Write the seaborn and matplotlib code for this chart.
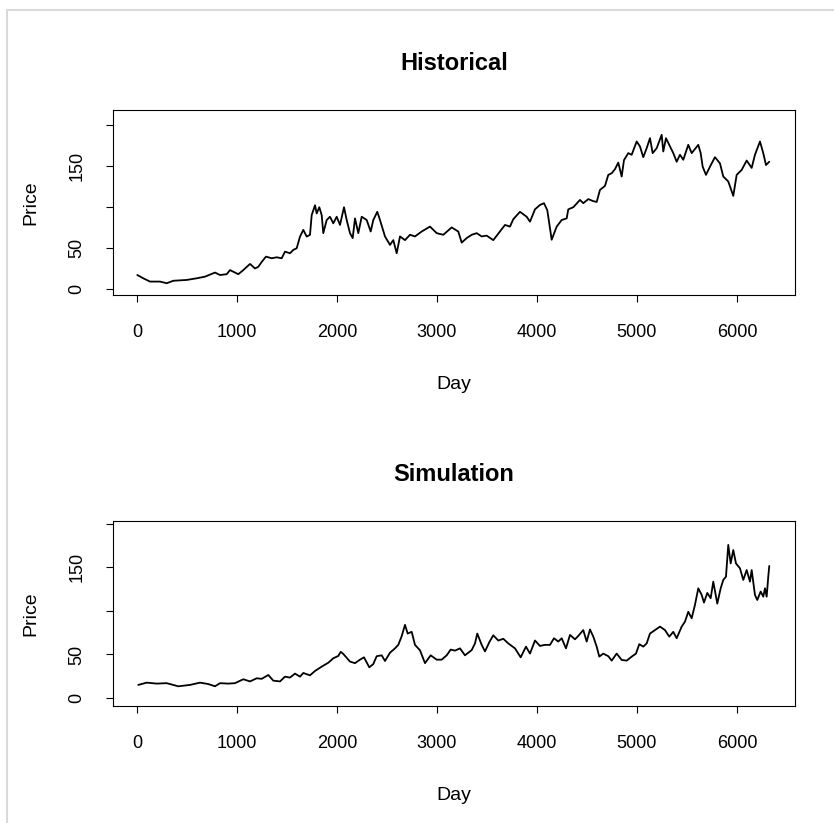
import numpy as np
import pandas as pd
import matplotlib
matplotlib.use("Agg")
import matplotlib.pyplot as plt
import seaborn as sns
from matplotlib.lines import Line2D

# --- values ---
hist_day = [3, 63, 130, 230, 297, 363, 497, 597, 680, 780, 830, 897, 930, 1013, 1063,
            1130, 1180, 1213, 1247, 1290, 1347, 1397, 1447, 1480, 1530, 1563, 1597,
            1630, 1663, 1697, 1730, 1747, 1780, 1797, 1823, 1847, 1863, 1897, 1930,
            1963, 1997, 2030, 2070, 2097, 2130, 2157, 2180, 2213, 2247, 2297, 2337,
            2363, 2403, 2430, 2480, 2530, 2563, 2597, 2630, 2680, 2730, 2780, 2847,
            2930, 2997, 3063, 3147, 3213, 3247, 3297, 3347, 3397, 3447, 3497, 3563,
            3630, 3680, 3730, 3763, 3830, 3897, 3930, 3980, 4030, 4070, 4103, 4130,
            4147, 4197, 4247, 4297, 4313, 4363, 4430, 4463, 4513, 4563, 4597, 4630,
            4680, 4713, 4747, 4780, 4813, 4847, 4870, 4913, 4947, 4997, 5030, 5063,
            5097, 5130, 5157, 5197, 5247, 5263, 5290, 5330, 5363, 5397, 5430, 5463,
            5513, 5547, 5613, 5637, 5657, 5690, 5730, 5780, 5830, 5863, 5913, 5963,
            5997, 6047, 6097, 6147, 6180, 6230, 6263, 6290, 6323]
hist_price = [17, 13, 9, 9, 7, 10, 11, 13, 15, 20, 17, 18, 23, 18, 23,
              30.5, 25, 27, 33, 39.4, 37.4, 38.6, 37.4, 45.5, 43.5, 47.6, 49.6,
              63.8, 72, 63.8, 66, 90, 102, 92, 99.6, 90, 68, 84, 88,
              80, 88, 78, 99.6, 84, 68, 62, 86, 68, 88, 84, 70,
              84, 94, 84, 64, 53.7, 59.5, 43.5, 64, 59.5, 66, 64, 70,
              76, 68, 66, 75, 70, 56.5, 62, 66, 68, 64, 65, 59.5,
              70, 78, 76, 85, 94, 88, 82, 97, 102.4, 104.5, 96, 74,
              60, 76, 84, 86, 97, 99.6, 108.5, 104.5, 109.5, 107, 106, 120.7,
              125.6, 139, 141, 146, 154, 137, 157, 165.5, 163.5, 179.7, 173.6, 160.6,
              171.5, 183.7, 165.5, 171.5, 187.8, 167.5, 183.7, 173.6, 165.5, 155, 163.5, 157.4,
              175.6, 165.5, 175.6, 165.5, 149, 139, 149, 160.6, 153, 137, 131, 113.4,
              139, 145, 156.5, 147.5, 163.5, 179.7, 165.5, 151, 155]

sim_day = [13, 97, 197, 297, 413, 530, 630, 713, 780, 830, 913, 980, 1063, 1130, 1197,
           1247, 1313, 1363, 1430, 1480, 1530, 1580, 1630, 1663, 1730, 1780, 1847,
           1913, 1963, 2013, 2037, 2063, 2130, 2180, 2230, 2270, 2323, 2363, 2397,
           2447, 2480, 2530, 2580, 2613, 2647, 2680, 2707, 2747, 2780, 2830, 2880,
           2937, 2997, 3047, 3097, 3137, 3180, 3230, 3280, 3347, 3380, 3403, 3447,
           3480, 3523, 3563, 3613, 3663, 3713, 3780, 3837, 3890, 3930, 3980, 4030,
           4080, 4130, 4170, 4213, 4247, 4290, 4330, 4380, 4413, 4463, 4497, 4530,
           4563, 4597, 4623, 4663, 4713, 4747, 4797, 4847, 4897, 4947, 4990, 5023,
           5063, 5097, 5130, 5180, 5230, 5280, 5323, 5363, 5397, 5447, 5480, 5513,
           5547, 5580, 5613, 5647, 5670, 5703, 5737, 5763, 5803, 5837, 5863, 5890,
           5913, 5937, 5963, 5990, 6030, 6063, 6097, 6130, 6147, 6180, 6203, 6237,
           6263, 6280, 6297, 6313, 6323]
sim_price = [15, 17.6, 16.5, 17, 13.4, 15, 17.6, 16, 13.4, 17, 16.5, 17, 21.5, 19, 22.6,
             22, 26.4, 19.9, 19, 24.5, 23.4, 28, 24.5, 28.7, 26, 31, 36,
             40.5, 45.6, 48.3, 53, 50.6, 41.8, 40, 44, 46.7, 35.2, 39, 48,
             49, 42.5, 52, 57, 61, 71, 84, 74, 76, 61, 54.8, 40,
             49, 44, 44, 49, 55.6, 54.4, 57, 49, 55, 62.7, 74, 61,
             53.5, 64, 72, 66, 68, 62.7, 57, 46.7, 59, 51, 66, 59.8,
             61, 61, 68.6, 64.8, 68.6, 57, 72.4, 67.4, 71.3, 78, 64.8, 78.7,
             70.5, 59, 47.5, 51, 48, 42.9, 51, 43.7, 42.9, 47.5, 51, 61.8,
             59, 62.7, 74, 78, 82, 78, 70.5, 76, 68.6, 82, 87.7, 99,
             91.6, 107, 126, 118.4, 109.6, 120.7, 114.6, 133.7, 108.4, 126, 135.6, 139.4,
             175.9, 154.6, 170, 154.6, 149, 135.6, 147, 133.7, 147, 118.4, 112.6, 122.3,
             116.4, 126, 116.4, 139.4, 151.7]

y_ticks = [0, 50, 100, 150, 200]
y_tick_labels = ["0", "50", "", "150", ""]
x_ticks = [0, 1000, 2000, 3000, 4000, 5000, 6000]

hist = pd.DataFrame({"Day": hist_day, "Price": hist_price})
sim = pd.DataFrame({"Day": sim_day, "Price": sim_price})

sns.set_style("white")
plt.rcParams["font.family"] = ["Liberation Sans", "DejaVu Sans"]
plt.rcParams["text.color"] = "black"
plt.rcParams["axes.labelcolor"] = "black"
plt.rcParams["xtick.color"] = "black"
plt.rcParams["ytick.color"] = "black"

fig = plt.figure(figsize=(8.34, 8.23), dpi=100)
ax1 = fig.add_axes([0.1355, 0.6416, 0.8177, 0.2247])
ax2 = fig.add_axes([0.1355, 0.1422, 0.8177, 0.2248])

panels = [(ax1, hist, "Historical", (-7.3, 218)), (ax2, sim, "Simulation", (-9.2, 203.4))]
for ax, df, title, ylim in panels:
    sns.lineplot(data=df, x="Day", y="Price", ax=ax, color="black", linewidth=1.3)
    ax.set_xlim(-240, 6580)
    ax.set_ylim(*ylim)
    ax.set_xticks(x_ticks)
    ax.set_yticks(y_ticks)
    ax.set_yticklabels(y_tick_labels, rotation=90, va="center")
    ax.tick_params(axis="both", direction="out", length=5, width=0.8, color="black",
                   labelsize=13, bottom=True, left=True)
    ax.tick_params(axis="x", pad=16)
    ax.tick_params(axis="y", pad=15)
    ax.set_title(title, fontsize=17, fontweight="bold", pad=29)
    ax.set_xlabel("Day", fontsize=14, labelpad=25)
    ax.set_ylabel("Price", fontsize=14, labelpad=21)
    for sp in ax.spines.values():
        sp.set_visible(True)
        sp.set_color("black")
        sp.set_linewidth(0.8)

# light grey frame of the screenshot
fig.add_artist(Line2D([7 / 834, 7 / 834], [0, 1 - 10 / 823], color="#d9d9d9", lw=1.5))
fig.add_artist(Line2D([7 / 834, 1], [1 - 10 / 823, 1 - 10 / 823], color="#d9d9d9", lw=1.5))

fig.savefig("out.png", dpi=100, facecolor="white")
